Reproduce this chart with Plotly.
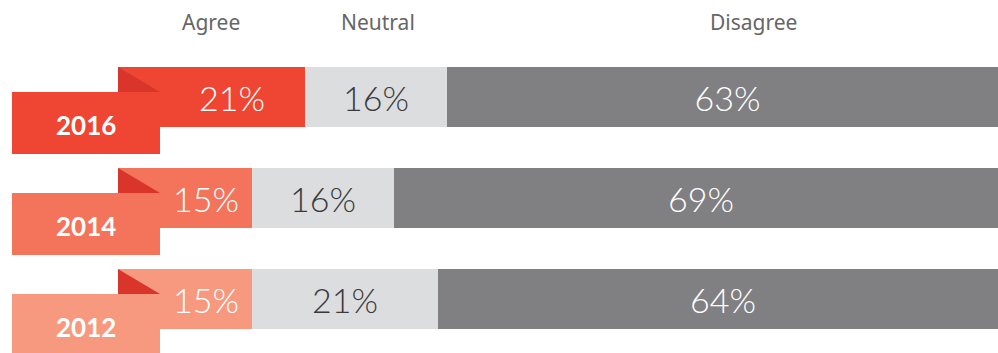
import plotly.graph_objects as go

# ---- data ----
years = ["2016", "2014", "2012"]
agree = [21, 15, 15]
neutral = [16, 16, 21]
disagree = [63, 69, 64]
headers = ["Agree", "Neutral", "Disagree"]

# ---- style ----
agree_colors = ["#EF4634", "#F3745B", "#F6997F"]
fold_color = "#D9352A"
neutral_color = "#DCDDDF"
disagree_color = "#808083"
W, H = 998, 353
PX_PER_UNIT = 8.9           # horizontal pixels per percentage point
BAR_LEFT_PX = 118
ROW_PX = 101                # vertical distance between rows
ROW0_PX = 97                # center of first row

x_range = [-BAR_LEFT_PX / PX_PER_UNIT, (W - BAR_LEFT_PX) / PX_PER_UNIT]
y_range = [(H - ROW0_PX) / ROW_PX, -ROW0_PX / ROW_PX]
ypos = list(range(len(years)))
bar_w = 60 / ROW_PX

tag_left = (12 - BAR_LEFT_PX) / PX_PER_UNIT
tag_right = (160 - BAR_LEFT_PX) / PX_PER_UNIT
tag_top = -5 / ROW_PX
tag_bot = 57 / ROW_PX
fold_top = -30 / ROW_PX

value_font = dict(family="Lato", size=34, weight=300)

fig = go.Figure()
fig.add_trace(go.Bar(
    y=ypos, x=agree, orientation="h", width=bar_w,
    marker=dict(color=agree_colors, line=dict(width=0)),
    hoverinfo="skip", showlegend=False,
))
fig.add_trace(go.Bar(
    y=ypos, x=neutral, orientation="h", width=bar_w,
    marker=dict(color=neutral_color, line=dict(width=0)),
    text=[f"{v}%" for v in neutral], textposition="inside",
    insidetextanchor="middle", textangle=0,
    textfont=dict(color="#3a3a3c", **value_font),
    hoverinfo="skip", showlegend=False,
))
fig.add_trace(go.Bar(
    y=ypos, x=disagree, orientation="h", width=bar_w,
    marker=dict(color=disagree_color, line=dict(width=0)),
    text=[f"{v}%" for v in disagree], textposition="inside",
    insidetextanchor="middle", textangle=0,
    textfont=dict(color="white", **value_font),
    hoverinfo="skip", showlegend=False,
))

shapes = []
annotations = []
for i, yr in enumerate(years):
    y = ypos[i]
    # fold triangle
    shapes.append(dict(
        type="path", xref="x", yref="y", layer="above",
        path=f"M 0,{y + fold_top} L {tag_right},{y + tag_top} L 0,{y + tag_top} Z",
        fillcolor=fold_color, line=dict(width=0),
    ))
    # tag
    shapes.append(dict(
        type="rect", xref="x", yref="y", layer="above",
        x0=tag_left, x1=tag_right, y0=y + tag_top, y1=y + tag_bot,
        fillcolor=agree_colors[i], line=dict(width=0),
    ))
    annotations.append(dict(
        x=(tag_left + tag_right) / 2, y=y + 28 / ROW_PX, xref="x", yref="y",
        text=f"<b>{yr}</b>", showarrow=False,
        font=dict(family="Lato", size=26, color="white", weight=900),
    ))
    # agree value label, centered in the visible part of the segment
    annotations.append(dict(
        x=(tag_right + agree[i]) / 2, y=y, xref="x", yref="y",
        text=f"{agree[i]}%", showarrow=False,
        font=dict(color="white", **value_font),
    ))

# headers above the first row's segments
centers = [agree[0] / 2, agree[0] + neutral[0] / 2, agree[0] + neutral[0] + disagree[0] / 2]
shifts = [0, 2, 26]
for h, c, s in zip(headers, centers, shifts):
    annotations.append(dict(
        x=c, y=0, xref="x", yref="y", yshift=75, xshift=s,
        text=h, showarrow=False,
        font=dict(family="Noto Sans", size=21, color="#666666"),
    ))

fig.update_layout(
    width=W, height=H, barmode="stack",
    margin=dict(l=0, r=0, t=0, b=0),
    paper_bgcolor="white", plot_bgcolor="white",
    xaxis=dict(range=x_range, visible=False, fixedrange=True),
    yaxis=dict(range=y_range, visible=False, fixedrange=True),
    shapes=shapes, annotations=annotations, bargap=0,
)
fig.write_html(
    "out.html",
    config={"displayModeBar": False},
    post_script="document.body.style.margin='0';document.body.style.overflow='hidden';",
)
